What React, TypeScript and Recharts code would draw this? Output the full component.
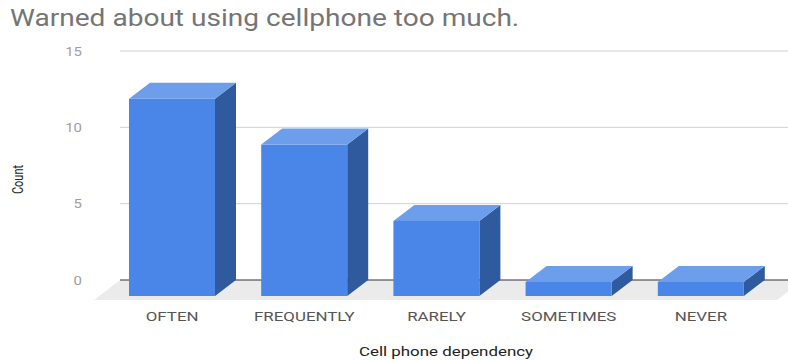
import React from "react";
import { BarChart, Bar, XAxis, YAxis, CartesianGrid } from "recharts";

const categories = ["OFTEN", "FREQUENTLY", "RARELY", "SOMETIMES", "NEVER"];
const counts = [12, 9, 4, 0, 0];
const yTicks = [0, 5, 10, 15];

const data = categories.map((name, i) => ({ name, count: counts[i] }));

// depth of the fake 3d effect
const DX = 21;
const DY = 16;
// the source image is stretched sideways, so text is too
const STRETCH = 1.3;

const Bar3D = (props: any) => {
  const { x, y, width, height } = props;
  const fx = x - DX;
  const ft = y + 2;
  const fb = y + height + DY;
  const top = `${fx},${ft} ${fx + width},${ft} ${fx + width + DX},${ft - DY} ${fx + DX},${ft - DY}`;
  const side = `${fx + width},${ft} ${fx + width + DX},${ft - DY} ${fx + width + DX},${fb - DY} ${fx + width},${fb}`;
  return (
    <g>
      <polygon points={side} fill="#2f5a9e" />
      <polygon points={top} fill="#6d9eeb" />
      <rect x={fx} y={ft} width={width} height={fb - ft} fill="#4a86e8" />
    </g>
  );
};

const GridLine = (props: any) => {
  const { x1, x2, y1, y, height } = props;
  const isBase = Math.abs(y1 - (y + height)) < 1;
  if (!isBase) {
    return <line x1={x1} x2={x2} y1={y1} y2={y1} stroke="#d0d0d0" strokeWidth={1} />;
  }
  const floor = `${x1},${y1} ${x2 + 15},${y1} ${x2 - 11},${y1 + 20} ${x1 - 26},${y1 + 20}`;
  return (
    <g>
      <polygon points={floor} fill="#ebebeb" />
      <line x1={x1} x2={x2} y1={y1} y2={y1} stroke="#333" strokeWidth={1} />
    </g>
  );
};

const XTick = (props: any) => {
  const { x, y, payload } = props;
  return (
    <g transform={`translate(${x - DX},${y}) scale(${STRETCH},1)`}>
      <text textAnchor="middle" dy="0.71em" fill="#555" fontSize={13}>
        {payload.value}
      </text>
    </g>
  );
};

const YTick = (props: any) => {
  const { x, y, payload } = props;
  return (
    <g transform={`translate(${x},${y}) scale(1.15,1)`}>
      <text textAnchor="end" dy="0.355em" fill="#9e9e9e" fontSize={13}>
        {payload.value}
      </text>
    </g>
  );
};

const CountLabel = (props: any) => {
  const { viewBox } = props;
  const cx = viewBox.x + 18;
  const cy = viewBox.y + viewBox.height / 2 + 14;
  return (
    <g transform={`translate(${cx},${cy}) scale(${STRETCH},1) rotate(-90)`}>
      <text textAnchor="middle" dominantBaseline="central" fill="#222" fontSize={11}>
        Count
      </text>
    </g>
  );
};

const DependencyLabel = (props: any) => {
  const { viewBox } = props;
  const cx = viewBox.x + viewBox.width / 2 - 8;
  const cy = viewBox.y + viewBox.height - 8;
  return (
    <g transform={`translate(${cx},${cy}) scale(${STRETCH},1)`}>
      <text textAnchor="middle" dominantBaseline="central" fill="#222" fontSize={13}>
        Cell phone dependency
      </text>
    </g>
  );
};

export default function App() {
  return (
    <div
      style={{
        position: "absolute",
        left: 0,
        top: 0,
        width: 788,
        height: 360,
        background: "#fff",
        fontFamily: "Roboto",
      }}
    >
      <div
        style={{
          position: "absolute",
          left: 10,
          top: 7,
          fontSize: 23,
          lineHeight: "24px",
          color: "#757575",
          whiteSpace: "nowrap",
          transform: "scaleX(1.22)",
          transformOrigin: "left top",
        }}
      >
        Warned about using cellphone too much.
      </div>
      <BarChart
        width={788}
        height={360}
        data={data}
        margin={{ top: 51, right: 0, left: 0, bottom: 0 }}
        style={{ fontFamily: "Roboto" }}
      >
        <CartesianGrid vertical={false} horizontal={GridLine} />
        <XAxis
          dataKey="name"
          height={80}
          padding={{ left: 7, right: 0 }}
          axisLine={false}
          tickLine={false}
          tickSize={0}
          tickMargin={32}
          tick={<XTick />}
          label={<DependencyLabel />}
        />
        <YAxis
          width={120}
          domain={[0, 15]}
          ticks={yTicks}
          axisLine={false}
          tickLine={false}
          tickSize={0}
          tickMargin={38}
          tick={<YTick />}
          label={<CountLabel />}
        />
        <Bar dataKey="count" barSize={86} shape={Bar3D} isAnimationActive={false} />
      </BarChart>
    </div>
  );
}
